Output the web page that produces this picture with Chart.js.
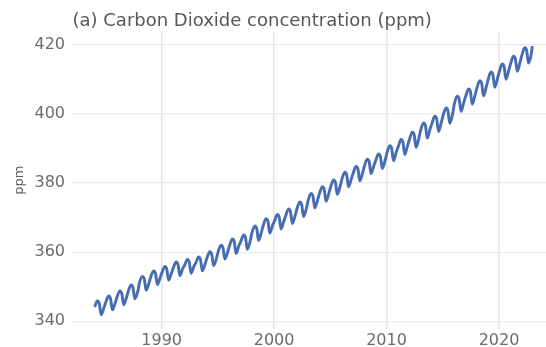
<!DOCTYPE html>
<html>
<head>
<meta charset="utf-8">
<script src="https://cdn.jsdelivr.net/npm/chart.js@4"></script>
<style>
  html, body { margin: 0; padding: 0; background: #fff; }
  #wrap { width: 546px; height: 347px; position: relative; }
</style>
</head>
<body>
<div id="wrap"><canvas id="co2-chart"></canvas></div>
<script>
const chartTitle = "(a) Carbon Dioxide concentration (ppm)";
const yTitle = "ppm";
const xTicks = [1990, 2000, 2010, 2020];
const yTicks = [340, 360, 380, 400, 420];

const years = [
  1984, 1985, 1986, 1987, 1988, 1989, 1990, 1991, 1992, 1993,
  1994, 1995, 1996, 1997, 1998, 1999, 2000, 2001, 2002, 2003,
  2004, 2005, 2006, 2007, 2008, 2009, 2010, 2011, 2012, 2013,
  2014, 2015, 2016, 2017, 2018, 2019, 2020, 2021, 2022,
];

// readings for a few months of each year (ppm)
const janCO2 = [
  344.2, 345.6, 347.1, 348.8, 351.3, 352.9, 354.2, 355.5, 356.2, 356.9,
  358.4, 360.3, 361.9, 363.1, 365.7, 367.8, 369.0, 370.6, 372.6, 375.1,
  377.0, 379.0, 381.2, 382.9, 385.0, 386.5, 388.7, 390.5, 392.6, 395.3,
  397.2, 399.6, 403.0, 405.1, 407.5, 410.0, 412.3, 414.6, 417.0,
];
const aprCO2 = [
  345.9, 347.3, 348.8, 350.5, 353.0, 354.6, 355.9, 357.2, 357.9, 358.6,
  360.1, 362.0, 363.8, 365.0, 367.6, 369.7, 370.9, 372.5, 374.5, 377.0,
  378.9, 380.9, 383.1, 384.8, 386.9, 388.4, 390.8, 392.6, 394.7, 397.4,
  399.3, 401.7, 405.1, 407.2, 409.6, 412.1, 414.4, 416.7, 419.1,
];
const junCO2 = [
  345.1, 346.5, 348.0, 349.7, 352.2, 353.8, 355.1, 356.4, 357.1, 357.8,
  359.3, 361.2, 363.0, 364.2, 366.8, 368.9, 370.1, 371.7, 373.7, 376.2,
  378.1, 380.1, 382.3, 384.0, 386.1, 387.6, 390.0, 391.8, 393.9, 396.6,
  398.5, 400.9, 404.3, 406.4, 408.8, 411.3, 413.6, 415.9, 418.3,
];
const augCO2 = [
  341.9, 343.3, 344.8, 346.5, 349.0, 350.6, 351.9, 353.2, 353.9, 354.6,
  356.1, 358.0, 359.6, 360.8, 363.4, 365.5, 366.7, 368.3, 370.3, 372.8,
  374.7, 376.7, 378.9, 380.6, 382.7, 384.2, 386.4, 388.2, 390.3, 393.0,
  394.9, 397.3, 400.7, 402.8, 405.2, 407.7, 410.0, 412.3, 414.7,
];
const novCO2 = [
  343.9, 345.3, 346.8, 348.5, 351.0, 352.6, 353.9, 355.2, 355.9, 356.6,
  358.1, 360.0, 361.9, 363.1, 365.7, 367.8, 369.0, 370.6, 372.6, 375.1,
  377.0, 379.0, 381.2, 382.9, 385.0, 386.5, 389.0, 390.8, 392.9, 395.6,
  397.5, 399.9, 403.3, 405.4, 407.8, 410.3, 412.6, 414.9, 417.3,
];
const lastDate = 2022.96;
const lastCO2 = 419.6;

// month positions within a year: Jan, Apr, Jun, Aug, Nov
const monthPos = [0.04, 0.29, 0.46, 0.62, 0.87];

const buildPoints = () => {
  const pts = [];
  years.forEach((yr, i) => {
    const vals = [janCO2[i], aprCO2[i], junCO2[i], augCO2[i], novCO2[i]];
    vals.forEach((v, j) => pts.push({ x: yr + monthPos[j], y: v }));
  });
  pts.push({ x: lastDate, y: lastCO2 });
  return pts;
};

const tickFont = { family: "DejaVu Sans", size: 16 };

// title sits over the panel, not the whole canvas
const panelTitle = {
  id: "panelTitle",
  afterDraw(chart) {
    const ctx = chart.ctx;
    ctx.save();
    ctx.font = "18px 'DejaVu Sans'";
    ctx.fillStyle = "#575757";
    ctx.textAlign = "left";
    ctx.textBaseline = "alphabetic";
    ctx.fillText(chartTitle, chart.chartArea.left + 0.5, 26);
    ctx.restore();
  },
};

const config = {
  type: "line",
  data: {
    datasets: [
      {
        label: "CO2",
        data: buildPoints(),
        borderColor: "rgb(70, 108, 178)",
        borderWidth: 2.9,
        pointRadius: 0,
        fill: false,
        cubicInterpolationMode: "monotone",
      },
    ],
  },
  options: {
    responsive: false,
    animation: false,
    layout: { padding: { top: 32, left: 0, right: 0, bottom: 0 } },
    plugins: {
      legend: { display: false },
      tooltip: { enabled: false },
    },
    scales: {
      x: {
        type: "linear",
        min: 1982.03,
        max: 2024.18,
        border: { display: false },
        grid: { color: "#e6e6e6", lineWidth: 1.6, drawTicks: false },
        afterBuildTicks: (s) => {
          s.ticks = xTicks.map((v) => ({ value: v }));
        },
        afterFit: (s) => {
          s.height = 18.5;
        },
        ticks: {
          font: tickFont,
          color: "#6b6b6b",
          padding: 3,
          maxRotation: 0,
          callback: (v) => String(v),
        },
      },
      y: {
        type: "linear",
        min: 337.92,
        max: 423.67,
        border: { display: false },
        grid: { color: "#ebebeb", lineWidth: 1.2, drawTicks: false },
        afterBuildTicks: (s) => {
          s.ticks = yTicks.map((v) => ({ value: v }));
        },
        afterFit: (s) => {
          s.width = 72;
        },
        title: {
          display: true,
          text: yTitle,
          font: { family: "DejaVu Sans", size: 13 },
          color: "#595959",
          padding: { top: 12, bottom: 0 },
        },
        ticks: {
          font: tickFont,
          color: "#6b6b6b",
          padding: 7,
          callback: (v) => String(v),
        },
      },
    },
  },
  plugins: [panelTitle],
};

const canvas = document.querySelector("#co2-chart");
canvas.width = 546;
canvas.height = 347;
new Chart(canvas, config);
</script>
</body>
</html>
